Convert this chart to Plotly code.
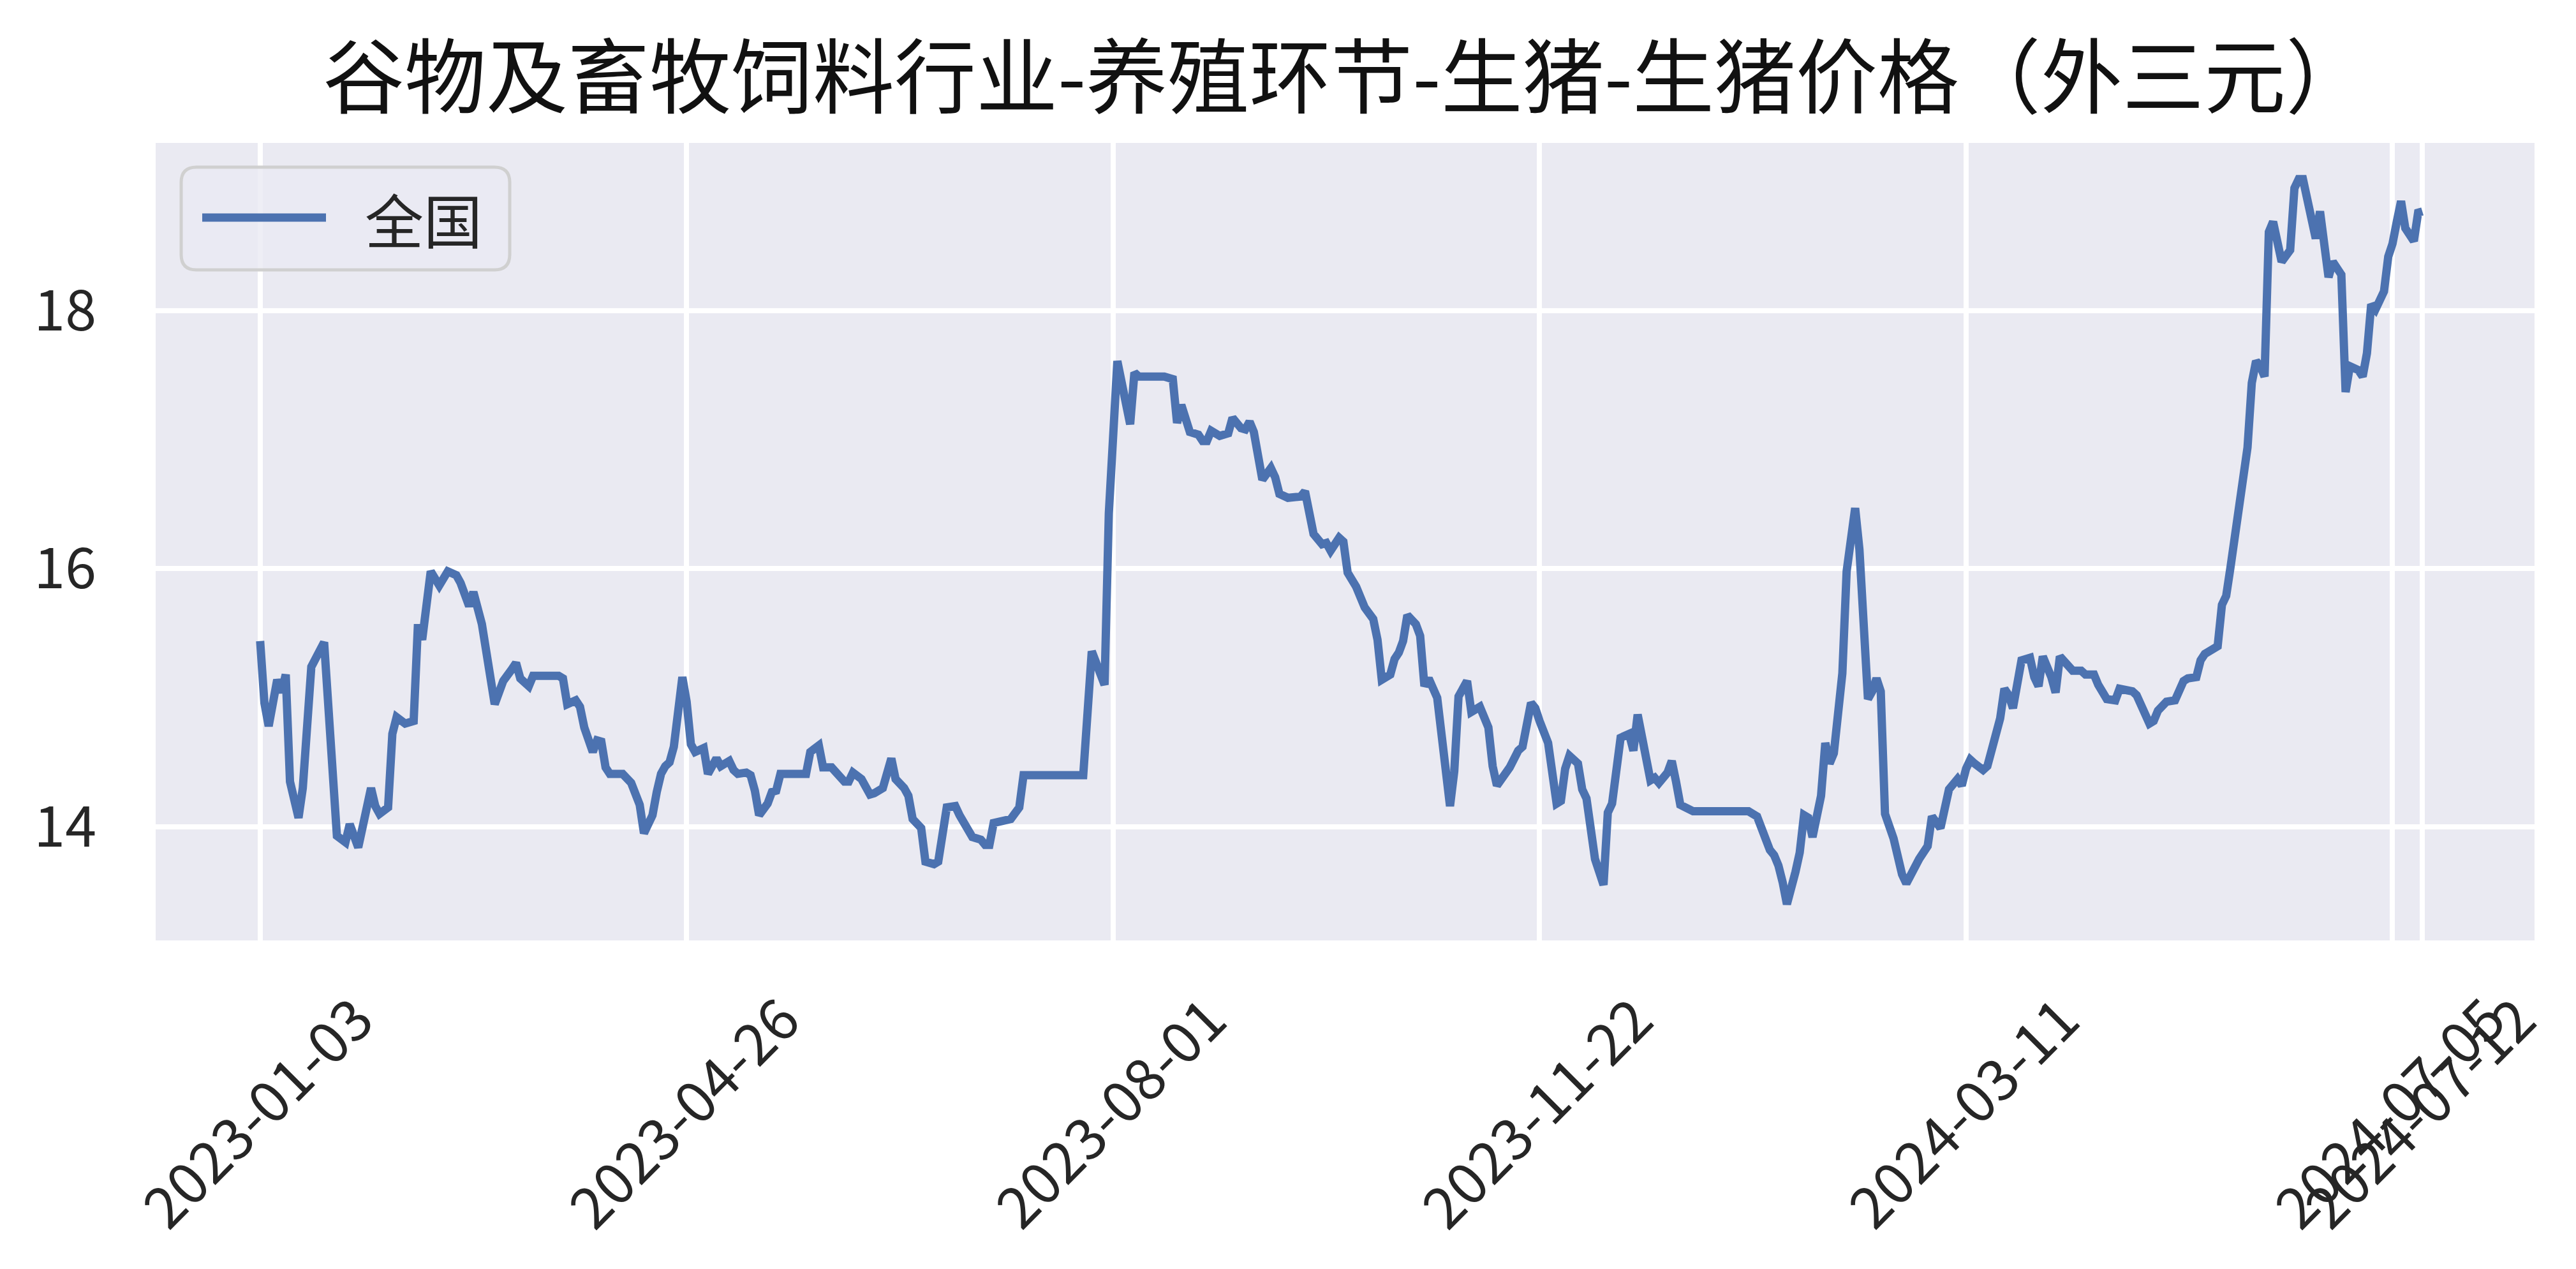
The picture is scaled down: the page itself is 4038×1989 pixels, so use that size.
import plotly.graph_objects as go

# 生猪价格（外三元）, 全国, x is the row index of the series
day_idx = [
    0, 1, 2, 4, 5, 6, 7, 9, 10, 12, 15, 18, 20, 21, 23, 25, 26, 27, 28, 30,
    31, 32, 33, 34, 36, 37, 38, 39, 40, 42, 43, 44, 46, 47, 49, 50, 52, 54, 55, 57,
    58, 59, 60, 61, 63, 64, 70, 71, 72, 74, 75, 76, 78, 79, 80, 81, 82, 85, 87, 89,
    90, 92, 93, 94, 95, 96, 97, 98, 99, 100, 101, 102, 104, 105, 107, 108, 110, 111, 112, 114,
    115, 116, 117, 119, 120, 121, 122, 128, 129, 131, 132, 134, 137, 138, 139, 141, 143, 144, 146, 148,
    149, 151, 152, 153, 155, 156, 158, 159, 161, 163, 164, 167, 169, 170, 171, 172, 174, 176, 178, 179,
    193, 195, 198, 199, 201, 204, 205, 206, 212, 214, 215, 216, 218, 220, 221, 222, 223, 225, 227, 228,
    230, 231, 232, 233, 235, 237, 238, 239, 241, 244, 245, 246, 247, 249, 250, 251, 253, 254, 255, 257,
    259, 261, 262, 263, 265, 266, 267, 268, 269, 271, 272, 273, 274, 276, 277, 278, 279, 280, 281, 283,
    284, 285, 286, 288, 289, 290, 292, 293, 295, 296, 298, 299, 300, 301, 302, 304, 305, 306, 307, 309,
    310, 311, 313, 315, 316, 317, 319, 321, 322, 323, 325, 326, 327, 328, 330, 331, 332, 333, 336, 349,
    351, 352, 354, 355, 356, 357, 358, 360, 361, 362, 363, 364, 366, 367, 368, 369, 371, 372, 374, 375,
    377, 378, 379, 380, 381, 383, 384, 385, 386, 388, 389, 391, 392, 394, 395, 396, 398, 399, 400, 401,
    402, 404, 405, 407, 408, 409, 410, 411, 412, 413, 415, 416, 417, 418, 420, 421, 422, 424, 425, 427,
    428, 430, 431, 433, 435, 436, 437, 439, 440, 441, 443, 444, 445, 447, 449, 451, 452, 454, 455, 456,
    459, 460, 461, 462, 464, 465, 466, 467, 468, 469, 470, 471, 472, 474, 476, 477, 478, 479, 481, 482,
    483, 484, 485, 486, 488, 489, 490, 492, 493, 494, 495, 496, 498, 499, 500, 501, 502, 503, 505, 506,
    507,
]
price = [
    15.44, 14.96, 14.78, 15.14, 15.04, 15.18, 14.35, 14.07, 14.30, 15.24, 15.43, 13.93, 13.88, 14.02, 13.84, 14.17, 14.30, 14.16, 14.10, 14.15,
    14.72, 14.85, 14.83, 14.80, 14.82, 15.57, 15.45, 15.72, 15.98, 15.87, 15.92, 15.98, 15.95, 15.89, 15.71, 15.82, 15.57, 15.12, 14.95, 15.13,
    15.19, 15.22, 15.27, 15.15, 15.09, 15.17, 15.17, 15.15, 14.95, 14.98, 14.93, 14.77, 14.58, 14.67, 14.66, 14.46, 14.41, 14.41, 14.34, 14.17,
    13.95, 14.09, 14.27, 14.41, 14.47, 14.50, 14.62, 14.84, 15.16, 14.97, 14.64, 14.58, 14.61, 14.41, 14.53, 14.47, 14.51, 14.44, 14.41, 14.42,
    14.40, 14.28, 14.09, 14.18, 14.27, 14.28, 14.41, 14.41, 14.58, 14.63, 14.46, 14.46, 14.35, 14.35, 14.42, 14.37, 14.25, 14.26, 14.30, 14.53,
    14.37, 14.30, 14.24, 14.06, 13.99, 13.73, 13.71, 13.73, 14.15, 14.16, 14.09, 13.92, 13.90, 13.86, 13.86, 14.03, 14.05, 14.06, 14.15, 14.40,
    14.40, 15.36, 15.10, 16.43, 17.61, 17.12, 17.52, 17.49, 17.49, 17.47, 17.13, 17.27, 17.06, 17.04, 16.99, 16.99, 17.07, 17.03, 17.05, 17.17,
    17.09, 17.08, 17.14, 17.06, 16.69, 16.78, 16.71, 16.58, 16.55, 16.56, 16.60, 16.43, 16.27, 16.19, 16.20, 16.14, 16.24, 16.21, 15.97, 15.86,
    15.70, 15.61, 15.45, 15.14, 15.18, 15.30, 15.35, 15.44, 15.64, 15.57, 15.48, 15.09, 15.15, 15.00, 14.68, 14.48, 14.16, 14.43, 15.01, 15.13,
    14.89, 14.91, 14.93, 14.77, 14.47, 14.32, 14.40, 14.46, 14.59, 14.62, 14.96, 14.92, 14.82, 14.72, 14.65, 14.18, 14.20, 14.45, 14.55, 14.49,
    14.29, 14.22, 13.75, 13.55, 14.11, 14.18, 14.69, 14.72, 14.59, 14.87, 14.56, 14.36, 14.38, 14.34, 14.42, 14.51, 14.35, 14.17, 14.12, 14.12,
    14.08, 13.98, 13.82, 13.78, 13.70, 13.57, 13.40, 13.65, 13.80, 14.09, 14.07, 13.92, 14.24, 14.65, 14.49, 14.57, 15.19, 15.98, 16.47, 16.15,
    14.99, 15.05, 15.15, 15.05, 14.10, 13.91, 13.73, 13.63, 13.56, 13.71, 13.75, 13.85, 14.08, 13.99, 14.18, 14.29, 14.37, 14.32, 14.45, 14.52,
    14.49, 14.44, 14.47, 14.73, 14.84, 15.07, 15.02, 14.92, 15.08, 15.29, 15.31, 15.16, 15.09, 15.32, 15.16, 15.04, 15.32, 15.25, 15.21, 15.21,
    15.18, 15.18, 15.10, 14.99, 14.98, 15.07, 15.06, 15.05, 15.02, 14.95, 14.80, 14.82, 14.90, 14.97, 14.98, 15.13, 15.15, 15.16, 15.29, 15.34,
    15.40, 15.72, 15.79, 16.01, 16.46, 16.77, 16.94, 17.44, 17.61, 17.57, 17.49, 18.61, 18.69, 18.38, 18.47, 18.95, 19.02, 19.02, 18.71, 18.56,
    18.77, 18.52, 18.26, 18.38, 18.28, 17.37, 17.57, 17.54, 17.49, 17.67, 18.05, 18.01, 18.15, 18.42, 18.52, 18.69, 18.85, 18.64, 18.54, 18.76,
    18.77,
]

tick_idx = [0, 100, 200, 300, 400, 500, 507]
tick_text = ["2023-01-03", "2023-04-26", "2023-08-01", "2023-11-22",
             "2024-03-11", "2024-07-05", "2024-07-12"]

title = "谷物及畜牧饲料行业-养殖环节-生猪-生猪价格（外三元）"
series_name = "全国"

W, H = 4038, 1989
L, R, T, B = 236, 73, 216, 523
PW, PH = W - L - R, H - T - B
FONT = "Noto Sans CJK SC"
BLUE = "#4C72B0"
INK = "#262626"


def px(x):
    return (x - L) / PW


def py(y):
    return (H - B - y) / PH


def rounded_box(x0, y0, x1, y1, r):
    # pixel box -> paper-coordinate svg path with rounded corners
    rx, ry = r / PW, r / PH
    a, b, c, d = px(x0), py(y1), px(x1), py(y0)
    return (f"M{a+rx},{b} L{c-rx},{b} Q{c},{b} {c},{b+ry} "
            f"L{c},{d-ry} Q{c},{d} {c-rx},{d} L{a+rx},{d} "
            f"Q{a},{d} {a},{d-ry} L{a},{b+ry} Q{a},{b} {a+rx},{b} Z")


lo, hi = min(price), max(price)
pad = (hi - lo) * 0.05

fig = go.Figure(go.Scatter(x=day_idx, y=price, mode="lines", name=series_name,
                           line=dict(color=BLUE, width=13), showlegend=False))

# legend drawn by hand so the sample line is as long as in the original
fig.add_shape(type="path", path=rounded_box(276, 254, 791, 415, 24),
              xref="paper", yref="paper", fillcolor="rgba(234,234,242,0.8)",
              line=dict(color="#d0d0d0", width=5))
fig.add_shape(type="line", xref="paper", yref="paper",
              x0=px(309), x1=px(503), y0=py(333), y1=py(333),
              line=dict(color=BLUE, width=13))
fig.add_annotation(text=series_name, xref="paper", yref="paper", x=px(562), y=py(333),
                   xanchor="left", yanchor="middle", showarrow=False,
                   font=dict(family=FONT, size=92, color=INK))

# rotated date labels, centred under each tick like matplotlib's rotation=45
for i, t in zip(tick_idx, tick_text):
    fig.add_annotation(text=t, x=i, xref="x", y=py(1732), yref="paper",
                       xanchor="center", yanchor="middle", textangle=-45, xshift=-8,
                       showarrow=False, font=dict(family=FONT, size=90, color=INK))

fig.update_layout(
    width=W, height=H,
    margin=dict(l=L, r=R, t=T, b=B),
    paper_bgcolor="white", plot_bgcolor="#EAEAF2",
    title=dict(text=title, x=px((L + W - R) / 2), xref="paper", xanchor="center",
               y=1 - 115 / H, yref="container", yanchor="middle",
               font=dict(family=FONT, size=128, color="#111111")),
    font=dict(family=FONT, color=INK),
)
fig.update_xaxes(range=[-24.5, 533.3], tickvals=tick_idx, showticklabels=False,
                 showgrid=True, gridcolor="white", gridwidth=8, zeroline=False,
                 showline=False, ticks="")
fig.update_yaxes(range=[lo - pad, hi + pad], tickvals=[14, 16, 18],
                 ticktext=["14", "16", "18"], tickfont=dict(family=FONT, size=88, color=INK),
                 showgrid=True, gridcolor="white", gridwidth=8, zeroline=False,
                 showline=False, ticks="", ticklabelstandoff=92)

fig.write_html("out.html")
